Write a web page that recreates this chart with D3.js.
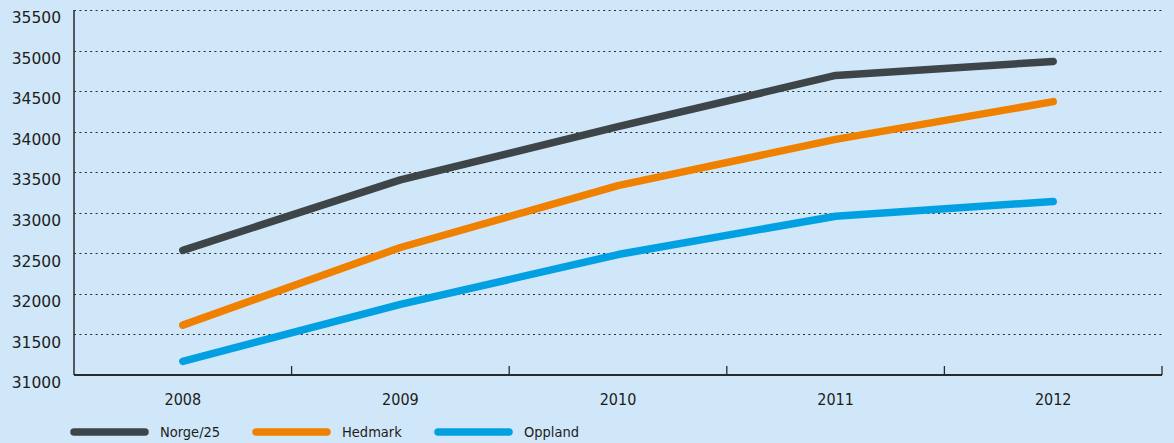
<!DOCTYPE html>
<html><head><meta charset="utf-8">
<script src="https://cdn.jsdelivr.net/npm/d3@7"></script>
<style>
html,body{margin:0;padding:0;background:#d0e7f9;}
svg{display:block;}
</style></head>
<body>
<svg id="chart" width="1174" height="443"></svg>
<script>
const years = ["2008","2009","2010","2011","2012"];
const norge = [32537, 33405, 34062, 34693, 34866];
const hedmark = [31615, 32572, 33335, 33905, 34370];
const oppland = [31168, 31870, 32485, 32958, 33140];
const seriesNames = ["Norge/25","Hedmark","Oppland"];
const seriesColors = ["#3d4548","#f08000","#00a0e2"];
const yTicks = [31000,31500,32000,32500,33000,33500,34000,34500,35000,35500];

(function () {
const svg = d3.select("#chart");
const W = 1174, H = 443;
const mLeft = 74, mRight = 1162, mTop = 10, mBottom = 375;

svg.append("rect").attr("width", W).attr("height", H).attr("fill", "#d0e7f9");

const x = d3.scaleBand().domain(years).range([mLeft, mRight]).padding(0);
const y = d3.scaleLinear().domain([31000, 35500]).range([mBottom, mTop]);

// gridlines
svg.append("g").selectAll("line").data(yTicks.filter(t => t > 31000)).join("line")
  .attr("x1", mLeft).attr("x2", mRight)
  .attr("y1", d => Math.round(y(d)) + 0.5).attr("y2", d => Math.round(y(d)) + 0.5)
  .attr("stroke", "#2a2a2a").attr("stroke-width", 1.2)
  .attr("stroke-dasharray", "2,3.4");

// y axis labels
const yAxis = d3.axisLeft(y).tickValues(yTicks).tickFormat(d3.format("d")).tickSize(0).tickPadding(13);
const gy = svg.append("g").attr("transform", `translate(${mLeft},0)`).call(yAxis);
gy.select(".domain").remove();
gy.selectAll("text").attr("font-family", "DejaVu Sans").attr("font-size", 15.5).attr("fill", "#1d1d1b")
  .attr("dy", "0.82em");

// y axis line
svg.append("line").attr("x1", mLeft).attr("x2", mLeft).attr("y1", mTop).attr("y2", mBottom)
  .attr("stroke", "#2a2a2a").attr("stroke-width", 1.5);

// x axis
const gx = svg.append("g").attr("transform", `translate(0,${mBottom})`)
  .call(d3.axisBottom(x).tickSize(0).tickPadding(19));
gx.select(".domain").attr("stroke", "#2a2a2a").attr("stroke-width", 1.8).attr("d", `M${mLeft},0H${mRight}`);
gx.selectAll("text").attr("font-family", "DejaVu Sans Condensed, DejaVu Sans").attr("font-size", 16).attr("fill", "#1d1d1b");
// band boundary ticks
const bounds = years.slice(1).map(v => x(v)).concat([mRight]);
svg.append("g").selectAll("line").data(bounds).join("line")
  .attr("x1", d => d).attr("x2", d => d).attr("y1", mBottom).attr("y2", mBottom - 9)
  .attr("stroke", "#2a2a2a").attr("stroke-width", 1.3);

// lines
const allSeries = [norge, hedmark, oppland];
const line = d3.line().x((d, i) => x(years[i]) + x.bandwidth() / 2).y(d => y(d));
svg.append("g").selectAll("path").data(allSeries).join("path")
  .attr("d", d => line(d))
  .attr("fill", "none")
  .attr("stroke", (d, i) => seriesColors[i])
  .attr("stroke-width", 7.5)
  .attr("stroke-linecap", "round")
  .attr("stroke-linejoin", "round");

// legend
const legendX = [74, 256, 438];
const lg = svg.append("g").attr("transform", "translate(0,432)");
seriesNames.forEach((name, i) => {
  lg.append("line").attr("x1", legendX[i]).attr("x2", legendX[i] + 71).attr("y1", 0).attr("y2", 0)
    .attr("stroke", seriesColors[i]).attr("stroke-width", 7.5).attr("stroke-linecap", "round");
  lg.append("text").attr("x", legendX[i] + 86).attr("y", 0).attr("dy", "0.36em")
    .attr("font-family", "DejaVu Sans Condensed, DejaVu Sans").attr("font-size", 14.5)
    .attr("fill", "#1d1d1b").text(name);
});
})();
</script>
</body></html>
